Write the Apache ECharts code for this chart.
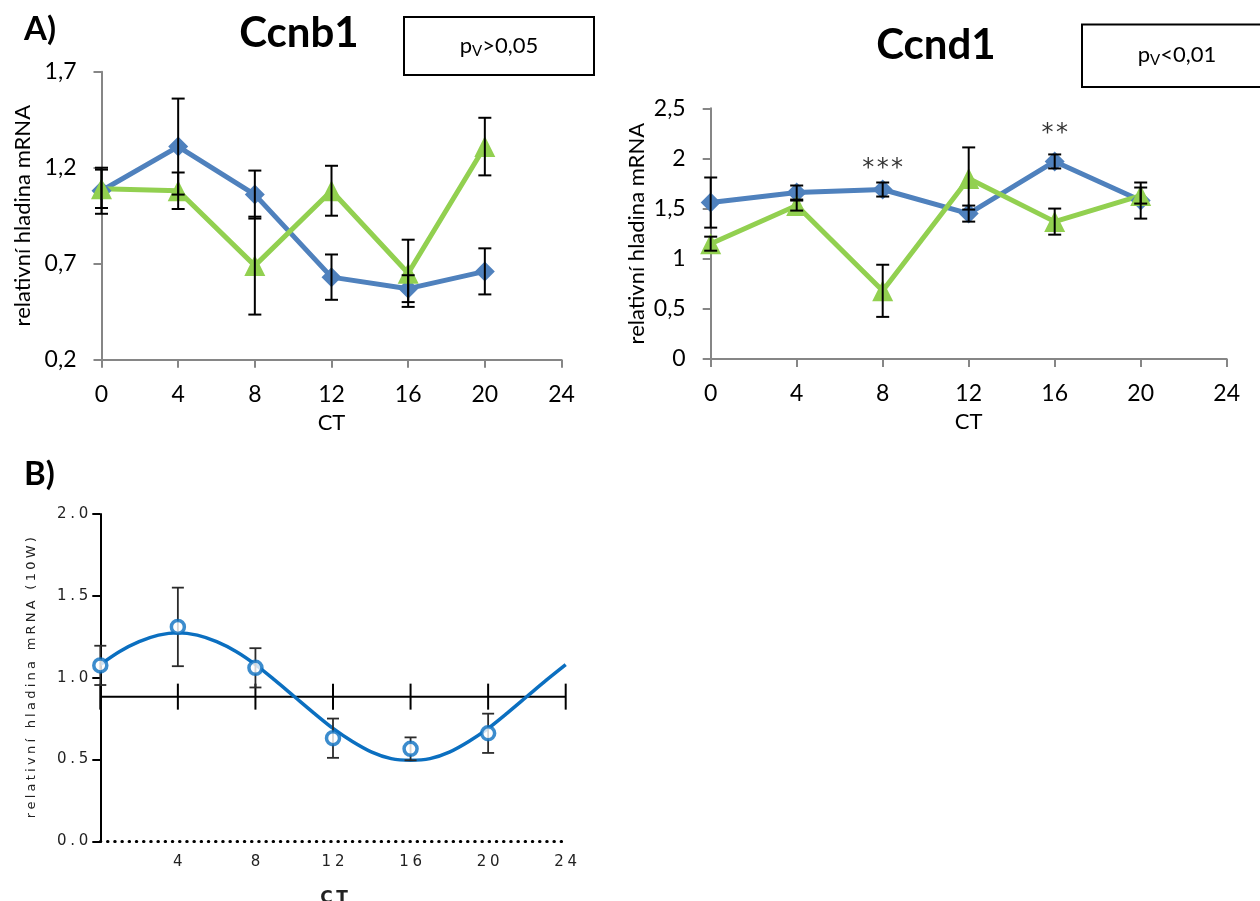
<!DOCTYPE html>
<html>
<head>
<meta charset="utf-8">
<script src="https://cdn.jsdelivr.net/npm/echarts@6/dist/echarts.min.js"></script>
<style>
    html, body { margin: 0; padding: 0; background: #fff; }
    #main { width: 1260px; height: 901px; }
</style>
</head>
<body>
<div id="main"></div>
<script>
// sampling times (CT, hours)
const ctTimes = [0, 4, 8, 12, 16, 20];

// A) Ccnb1
const ccnb1Blue = [1.08, 1.31, 1.06, 0.63, 0.57, 0.66];
const ccnb1BlueErr = [0.12, 0.25, 0.125, 0.118, 0.07, 0.12];
const ccnb1Green = [1.09, 1.08, 0.69, 1.08, 0.65, 1.31];
const ccnb1GreenErr = [0.1, 0.095, 0.255, 0.13, 0.175, 0.15];
const ccnb1Ticks = [0.2, 0.7, 1.2, 1.7];

// A) Ccnd1
const ccnd1Blue = [1.56, 1.66, 1.69, 1.45, 1.97, 1.58];
const ccnd1BlueErr = [0.25, 0.07, 0.07, 0.08, 0.07, 0.18];
const ccnd1Green = [1.15, 1.53, 0.68, 1.8, 1.37, 1.63];
const ccnd1GreenErr = [0.07, 0.05, 0.26, 0.31, 0.13, 0.08];
const starCT = [8, 16];
const starY = [1.96, 2.31];
const starText = ['***', '**'];

// B) Ccnb1 with cosinor fit (curve every hour)
const ldMean = [1.075, 1.31, 1.06, 0.63, 0.565, 0.66];
const ldErr = [0.12, 0.24, 0.12, 0.12, 0.07, 0.12];
const fitCT = [0, 1, 2, 3, 4, 5, 6, 7, 8, 9, 10, 11, 12, 13, 14, 15, 16, 17, 18, 19, 20, 21, 22, 23, 24];
const fitY = [1.08, 1.16, 1.22, 1.26, 1.275, 1.26, 1.22, 1.16, 1.08, 0.985, 0.885, 0.785, 0.69,
              0.61, 0.545, 0.505, 0.495, 0.505, 0.545, 0.61, 0.69, 0.785, 0.885, 0.985, 1.08];
const mesor = 0.884;
const mesorTicks = [0, 4, 8, 12, 16, 20, 24];

const FONT = 'Lato';
const SMALL = 'DejaVu Sans';
const BLUE = '#4F81BD';
const GREEN = '#92D050';
const FIT = '#0B6FC0';

const spaced = (s, gap = '\u2009') => String(s).split('').join(gap);
const comma = v => String(Math.round(v * 10) / 10).replace('.', ',');

const chart = echarts.init(document.getElementById('main'));

function errorBars(axisIndex, xs, ys, errs, cap, color, width) {
    return {
        type: 'custom',
        xAxisIndex: axisIndex,
        yAxisIndex: axisIndex,
        z: 4,
        silent: true,
        data: xs.map((t, i) => [t, ys[i], errs[i]]),
        renderItem: (params, api) => {
            const x = api.value(0), y = api.value(1), e = api.value(2);
            const top = api.coord([x, y + e]);
            const bot = api.coord([x, y - e]);
            const style = { stroke: color, lineWidth: width };
            return {
                type: 'group',
                children: [
                    { type: 'line', shape: { x1: top[0], y1: top[1], x2: bot[0], y2: bot[1] }, style },
                    { type: 'line', shape: { x1: top[0] - cap, y1: top[1], x2: top[0] + cap, y2: top[1] }, style },
                    { type: 'line', shape: { x1: bot[0] - cap, y1: bot[1], x2: bot[0] + cap, y2: bot[1] }, style }
                ]
            };
        }
    };
}

function topX(gridIndex) {
    return {
        type: 'value', gridIndex, min: 0, max: 24, interval: 4,
        name: 'CT', nameLocation: 'middle', nameGap: 52,
        nameTextStyle: { fontFamily: FONT, fontSize: 22, color: '#000' },
        axisLine: { onZero: false, lineStyle: { color: '#868686', width: 2 } },
        axisTick: { length: 8, lineStyle: { color: '#868686', width: 2 } },
        axisLabel: { fontFamily: FONT, fontSize: 23, color: '#000', margin: 23 },
        splitLine: { show: false }
    };
}

function topY(gridIndex, extra, gap) {
    return Object.assign({
        type: 'value', gridIndex,
        name: 'relativní hladina mRNA', nameLocation: 'middle', nameGap: gap,
        nameTextStyle: { fontFamily: FONT, fontSize: 22, color: '#000' },
        axisLine: { show: true, lineStyle: { color: '#868686', width: 2 } },
        axisTick: { show: true, length: 8, lineStyle: { color: '#868686', width: 2 } },
        splitLine: { show: false }
    }, extra);
}

function lineSeries(axisIndex, ys, color, symbol, size) {
    return {
        type: 'line', xAxisIndex: axisIndex, yAxisIndex: axisIndex,
        data: ctTimes.map((t, i) => [t, ys[i]]),
        symbol, symbolSize: size, showAllSymbol: true,
        lineStyle: { color, width: 5 },
        itemStyle: { color },
        z: 3, silent: true
    };
}

chart.setOption({
    animation: false,
    grid: [
        { left: 101.5, top: 71.7, width: 460, height: 288 },
        { left: 710.7, top: 108.3, width: 516, height: 250.7 },
        { left: 100.3, top: 514, width: 465.4, height: 327.3 }
    ],
    xAxis: [
        topX(0),
        topX(1),
        {
            type: 'value', gridIndex: 2, min: 0, max: 24, interval: 4,
            axisLine: { onZero: false, lineStyle: { color: '#000', width: 3, type: [0.5, 6.7], cap: 'round' } },
            axisTick: { show: false },
            axisLabel: {
                fontFamily: SMALL, fontSize: 15, color: '#222', margin: 13,
                formatter: v => (v === 0 ? '' : spaced(v, '\u2005'))
            },
            splitLine: { show: false }
        }
    ],
    yAxis: [
        topY(0, {
            min: 0.2, max: 1.7,
            axisLabel: {
                fontFamily: FONT, fontSize: 23, color: '#000', margin: 25,
                customValues: ccnb1Ticks, formatter: comma
            },
            axisTick: { show: true, length: 8, customValues: ccnb1Ticks, lineStyle: { color: '#868686', width: 2 } }
        }, 68),
        topY(1, {
            min: 0, max: 2.5, interval: 0.5,
            axisLabel: { fontFamily: FONT, fontSize: 23, color: '#000', margin: 25, formatter: comma }
        }, 63),
        {
            type: 'value', gridIndex: 2, min: 0, max: 2, interval: 0.5,
            name: spaced('relativní hladina mRNA (10W)', '\u2005'), nameLocation: 'middle', nameGap: 62,
            nameTextStyle: { fontFamily: SMALL, fontSize: 13, color: '#222' },
            axisLine: { show: true, lineStyle: { color: '#000', width: 2 } },
            axisTick: { show: true, length: 8, lineStyle: { color: '#000', width: 2 } },
            axisLabel: {
                fontFamily: SMALL, fontSize: 15, color: '#222', margin: 12,
                formatter: v => spaced(v.toFixed(1), '\u2005')
            },
            splitLine: { show: false }
        }
    ],
    series: [
        lineSeries(0, ccnb1Blue, BLUE, 'diamond', 20),
        lineSeries(0, ccnb1Green, GREEN, 'triangle', 21),
        errorBars(0, ctTimes, ccnb1Blue, ccnb1BlueErr, 6.5, '#000', 2),
        errorBars(0, ctTimes, ccnb1Green, ccnb1GreenErr, 6.5, '#000', 2),

        lineSeries(1, ccnd1Blue, BLUE, 'diamond', 20),
        lineSeries(1, ccnd1Green, GREEN, 'triangle', 21),
        errorBars(1, ctTimes, ccnd1Blue, ccnd1BlueErr, 6.5, '#000', 2),
        errorBars(1, ctTimes, ccnd1Green, ccnd1GreenErr, 6.5, '#000', 2),
        {
            type: 'scatter', xAxisIndex: 1, yAxisIndex: 1,
            data: starCT.map((t, i) => [t, starY[i]]),
            symbolSize: 1, itemStyle: { color: 'rgba(0,0,0,0)' },
            label: {
                show: true, position: 'inside', fontFamily: SMALL, fontSize: 24, color: '#000',
                offset: [0, 6],
                formatter: p => spaced(starText[p.dataIndex], '\u200A')
            },
            silent: true
        },

        // B) mesor line with crossing ticks
        {
            type: 'line', xAxisIndex: 2, yAxisIndex: 2,
            data: [[0, mesor], [24, mesor]],
            symbol: 'none', lineStyle: { color: '#000', width: 2 }, z: 2, silent: true
        },
        {
            type: 'custom', xAxisIndex: 2, yAxisIndex: 2, z: 2, silent: true,
            data: mesorTicks.map(t => [t, mesor]),
            renderItem: (params, api) => {
                const p = api.coord([api.value(0), api.value(1)]);
                return {
                    type: 'line',
                    shape: { x1: p[0], y1: p[1] - 13, x2: p[0], y2: p[1] + 13 },
                    style: { stroke: '#000', lineWidth: 2 }
                };
            }
        },
        {
            type: 'line', xAxisIndex: 2, yAxisIndex: 2,
            data: fitCT.map((t, i) => [t, fitY[i]]),
            smooth: 0.3, symbol: 'none',
            lineStyle: { color: FIT, width: 3.5 }, z: 3, silent: true
        },
        errorBars(2, ctTimes, ldMean, ldErr, 6, '#2b2b2b', 1.8),
        {
            type: 'scatter', xAxisIndex: 2, yAxisIndex: 2,
            data: ctTimes.map((t, i) => [t, ldMean[i]]),
            symbol: 'circle', symbolSize: 13,
            itemStyle: { color: '#fff', borderColor: FIT, borderWidth: 3.5 },
            z: 5, silent: true
        }
    ],
    graphic: [
        { type: 'text', left: 24, top: 13, style: { text: 'A)', font: 'bold 33px Lato', fill: '#000' } },
        { type: 'text', left: 24, top: 458, style: { text: 'B)', font: 'bold 33px Lato', fill: '#000' } },
        { type: 'text', x: 299, y: 33, style: { text: 'Ccnb1', font: 'bold 42px Lato', fill: '#000', align: 'center', verticalAlign: 'middle' } },
        { type: 'text', x: 936, y: 45, style: { text: 'Ccnd1', font: 'bold 42px Lato', fill: '#000', align: 'center', verticalAlign: 'middle' } },
        { type: 'rect', shape: { x: 404, y: 17, width: 190, height: 58 }, style: { fill: '#fff', stroke: '#000', lineWidth: 2 } },
        { type: 'rect', shape: { x: 1082, y: 24.5, width: 200, height: 62.5 }, style: { fill: '#fff', stroke: '#000', lineWidth: 2 } },
        {
            type: 'text', x: 499, y: 46,
            style: {
                text: 'p{sub|V}>0,05', font: '22px Lato', fill: '#000', align: 'center', verticalAlign: 'middle',
                rich: { sub: { fontSize: 15, fontFamily: FONT, padding: [10, 0, 0, 0] } }
            }
        },
        {
            type: 'text', x: 1177, y: 55,
            style: {
                text: 'p{sub|V}<0,01', font: '22px Lato', fill: '#000', align: 'center', verticalAlign: 'middle',
                rich: { sub: { fontSize: 15, fontFamily: FONT, padding: [10, 0, 0, 0] } }
            }
        },
        { type: 'text', x: 334, y: 890, style: { text: 'C\u2009T', font: 'bold 17px "DejaVu Sans"', fill: '#222', align: 'center', verticalAlign: 'top' } }
    ]
});
</script>
</body>
</html>
